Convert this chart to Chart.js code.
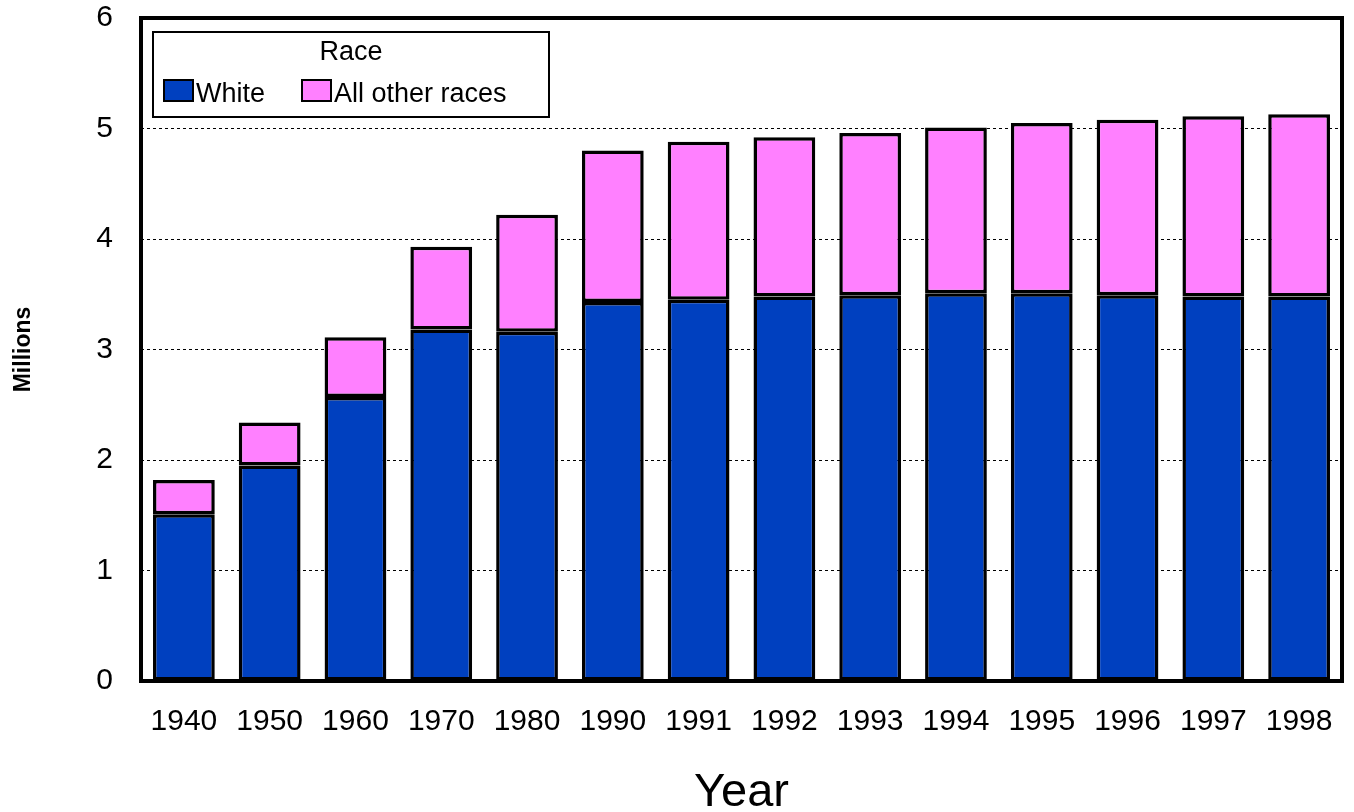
<!DOCTYPE html>
<html>
<head>
<meta charset="utf-8">
<script src="https://cdn.jsdelivr.net/npm/chart.js@4/dist/chart.umd.min.js"></script>
<style>
  html, body { margin: 0; padding: 0; background: #fff; }
  #wrap { width: 1354px; height: 812px; }
</style>
</head>
<body>
<div id="wrap"><canvas id="chart"></canvas></div>
<script>
// values, in millions
var years = ['1940', '1950', '1960', '1970', '1980', '1990', '1991', '1992', '1993', '1994', '1995', '1996', '1997', '1998'];
var white = [1.51, 1.95, 2.57, 3.18, 3.16, 3.43, 3.45, 3.48, 3.49, 3.51, 3.51, 3.49, 3.48, 3.48];
var otherRaces = [0.31, 0.39, 0.54, 0.75, 1.06, 1.37, 1.43, 1.44, 1.47, 1.50, 1.54, 1.59, 1.63, 1.65];
var yTicks = [0, 1, 2, 3, 4, 5, 6];
var legendTitle = 'Race';

var blue = '#0040BF';
var pink = '#FF80FF';
var font = "Arial, 'Liberation Sans', sans-serif";

// frame round the plot + the boxed legend in the top left corner
var framePlugin = {
  id: 'frame',
  afterDraw: function(chart) {
    var ctx = chart.ctx;
    var a = chart.chartArea;
    ctx.save();
    ctx.strokeStyle = '#000';
    ctx.lineWidth = 4;
    ctx.strokeRect(a.left, a.top, a.right - a.left, a.bottom - a.top);

    // legend box
    var bx = 153, by = 32, bw = 396, bh = 85;
    ctx.fillStyle = '#fff';
    ctx.fillRect(bx, by, bw, bh);
    ctx.lineWidth = 2;
    ctx.strokeRect(bx, by, bw, bh);

    ctx.fillStyle = '#000';
    ctx.font = '27px ' + font;
    ctx.textAlign = 'center';
    ctx.textBaseline = 'middle';
    ctx.fillText(legendTitle, bx + bw / 2, 53);

    var items = chart.data.datasets;
    var xs = [164, 302];
    ctx.textAlign = 'left';
    items.forEach(function(ds, i) {
      ctx.fillStyle = ds.backgroundColor;
      ctx.fillRect(xs[i], 80, 29, 21);
      ctx.strokeStyle = '#000';
      ctx.lineWidth = 2;
      ctx.strokeRect(xs[i], 80, 29, 21);
      ctx.fillStyle = '#000';
      ctx.fillText(ds.label, xs[i] + 32, 95);
    });
    ctx.restore();
  }
};

new Chart(document.getElementById('chart'), {
  type: 'bar',
  data: {
    labels: years,
    datasets: [
      {
        label: 'White',
        data: white,
        backgroundColor: blue,
        borderColor: '#000',
        borderWidth: 3.5,
        borderSkipped: false
      },
      {
        label: 'All other races',
        data: otherRaces,
        backgroundColor: pink,
        borderColor: '#000',
        borderWidth: 3.5,
        borderSkipped: false
      }
    ]
  },
  options: {
    responsive: true,
    maintainAspectRatio: false,
    animation: false,
    layout: { padding: { top: 18, right: 12, left: 0, bottom: 0 } },
    plugins: {
      legend: { display: false },
      tooltip: { enabled: false }
    },
    datasets: {
      bar: { categoryPercentage: 1, barPercentage: 0.72 }
    },
    scales: {
      x: {
        stacked: true,
        grid: { display: false, drawTicks: false },
        border: { display: false },
        ticks: {
          color: '#000',
          padding: 23,
          font: { family: font, size: 30 }
        },
        title: {
          display: true,
          text: 'Year',
          color: '#000',
          font: { family: font, size: 47, lineHeight: 0.82 },
          padding: { top: 0, bottom: 0 }
        },
        afterFit: function(scale) {
          scale.height = 131;
          scale.paddingLeft = 0;
          scale.paddingRight = 0;
        }
      },
      y: {
        stacked: true,
        min: 0,
        max: 6,
        afterBuildTicks: function(scale) {
          scale.ticks = yTicks.map(function(v) { return { value: v }; });
        },
        grid: {
          color: function(c) {
            return (c.tick.value === 0 || c.tick.value === 6) ? 'rgba(0,0,0,0)' : '#000';
          },
          lineWidth: 1,
          drawTicks: false
        },
        border: { display: false, dash: [3, 3] },
        ticks: {
          color: '#000',
          padding: 28,
          font: { family: font, size: 30 }
        },
        title: {
          display: true,
          text: 'Millions',
          color: '#000',
          font: { family: font, size: 23, weight: 'bold' },
          padding: { top: 10, bottom: 0 }
        },
        afterFit: function(scale) {
          scale.width = 141;
          scale.paddingTop = 0;
          scale.paddingBottom = 0;
        }
      }
    }
  },
  plugins: [framePlugin]
});
</script>
</body>
</html>
